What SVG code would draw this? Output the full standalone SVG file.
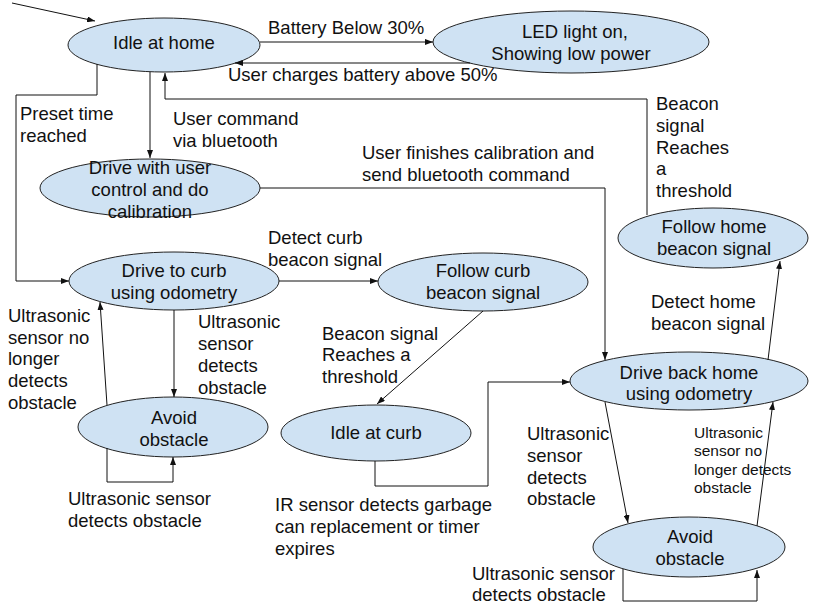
<svg xmlns="http://www.w3.org/2000/svg" width="815" height="604" viewBox="0 0 815 604">
<style>
.n ellipse{fill:#cfe2f3;stroke:#222;stroke-width:1}
text{font-family:"Liberation Sans",Arial,sans-serif;font-size:18.5px;fill:#111}
.n text{text-anchor:middle}
.s{font-size:15.5px}
.c path{fill:none;stroke:#111;stroke-width:1;marker-end:url(#ah)}
</style>
<defs>
<marker id="ah" viewBox="0 0 8 6" refX="8" refY="3" markerWidth="8" markerHeight="6" orient="auto" markerUnits="userSpaceOnUse"><path d="M0,0 L8,3 L0,6 z" fill="#111"/></marker>
</defs>
<rect width="815" height="604" fill="#fff"/>
<g id="idle-home" class="n"><ellipse cx="164" cy="45" rx="96" ry="27"/><text x="164" y="49">Idle at home</text></g>
<g id="led" class="n"><ellipse cx="571" cy="42" rx="138" ry="31"/><text x="575" y="38">LED light on,</text><text x="571" y="60">Showing low power</text></g>
<g id="drive-user" class="n"><ellipse cx="150" cy="188" rx="110" ry="29"/><text x="150" y="174">Drive with user</text><text x="150" y="196">control and do</text><text x="150" y="218">calibration</text></g>
<g id="drive-curb" class="n"><ellipse cx="174" cy="281" rx="105" ry="29"/><text x="174" y="277">Drive to curb</text><text x="174" y="299">using odometry</text></g>
<g id="follow-curb" class="n"><ellipse cx="483" cy="282" rx="105" ry="29"/><text x="483" y="277">Follow curb</text><text x="483" y="299">beacon signal</text></g>
<g id="avoid-left" class="n"><ellipse cx="173" cy="427" rx="95" ry="30"/><text x="174" y="424">Avoid</text><text x="174" y="446">obstacle</text></g>
<g id="idle-curb" class="n"><ellipse cx="376" cy="433" rx="95" ry="28"/><text x="376" y="439">Idle at curb</text></g>
<g id="drive-back" class="n"><ellipse cx="689" cy="381" rx="119" ry="29"/><text x="689" y="379">Drive back home</text><text x="689" y="400">using odometry</text></g>
<g id="avoid-right" class="n"><ellipse cx="689" cy="547" rx="96" ry="30"/><text x="690" y="543">Avoid</text><text x="690" y="565">obstacle</text></g>
<g id="follow-home" class="n"><ellipse cx="713" cy="238" rx="95" ry="30"/><text x="714" y="233">Follow home</text><text x="714" y="255">beacon signal</text></g>
<g id="connectors" class="c">
<path d="M12,3 L95,21"/>
<path d="M260,42 L433,42"/>
<path d="M470,63 L235,63"/>
<path d="M647,215 L647,99 L165,99 L165,73"/>
<path d="M150,72 L150,158"/>
<path d="M97,64 L97,95 L16,95 L16,281 L69,281"/>
<path d="M260,188 L605,188 L605,360"/>
<path d="M279,281 L378,281"/>
<path d="M174,310 L174,397"/>
<path d="M107,405 L100,302"/>
<path d="M107,448 L107,482 L173,482 L173,457"/>
<path d="M483,311 L377,404"/>
<path d="M375,461 L375,486 L488,486 L488,382 L570,382"/>
<path d="M605,402 L628,523"/>
<path d="M757,526 L773,402"/>
<path d="M623,569 L623,601 L757,601 L757,570"/>
<path d="M768,360 L780,261"/>
</g>
<g id="labels">
<text x="268" y="34">Battery Below 30%</text>
<text x="228" y="81">User charges battery above 50%</text>
<text x="173" y="125">User command</text><text x="173" y="147">via bluetooth</text>
<text x="20" y="120">Preset time</text><text x="20" y="142">reached</text>
<text x="362" y="159">User finishes calibration and</text><text x="362" y="181">send bluetooth command</text>
<text x="656" y="110">Beacon</text><text x="656" y="132">signal</text><text x="656" y="154">Reaches</text><text x="656" y="175">a</text><text x="656" y="197">threshold</text>
<text x="268" y="244">Detect curb</text><text x="268" y="266">beacon signal</text>
<text x="198" y="328">Ultrasonic</text><text x="198" y="350">sensor</text><text x="198" y="372">detects</text><text x="198" y="394">obstacle</text>
<text x="8" y="322">Ultrasonic</text><text x="8" y="344">sensor no</text><text x="8" y="365">longer</text><text x="8" y="387">detects</text><text x="8" y="409">obstacle</text>
<text x="68" y="505">Ultrasonic sensor</text><text x="68" y="527">detects obstacle</text>
<text x="322" y="340">Beacon signal</text><text x="322" y="361">Reaches a</text><text x="322" y="383">threshold</text>
<text x="275" y="511">IR sensor detects garbage</text><text x="275" y="533">can replacement or timer</text><text x="275" y="555">expires</text>
<text x="527" y="440">Ultrasonic</text><text x="527" y="462">sensor</text><text x="527" y="484">detects</text><text x="527" y="505">obstacle</text>
<text x="651" y="308">Detect home</text><text x="651" y="330">beacon signal</text>
<text class="s" x="694" y="438">Ultrasonic</text><text class="s" x="694" y="456">sensor no</text><text class="s" x="694" y="475">longer detects</text><text class="s" x="694" y="493">obstacle</text>
<text x="472" y="580">Ultrasonic sensor</text><text x="472" y="601">detects obstacle</text>
</g>
</svg>
